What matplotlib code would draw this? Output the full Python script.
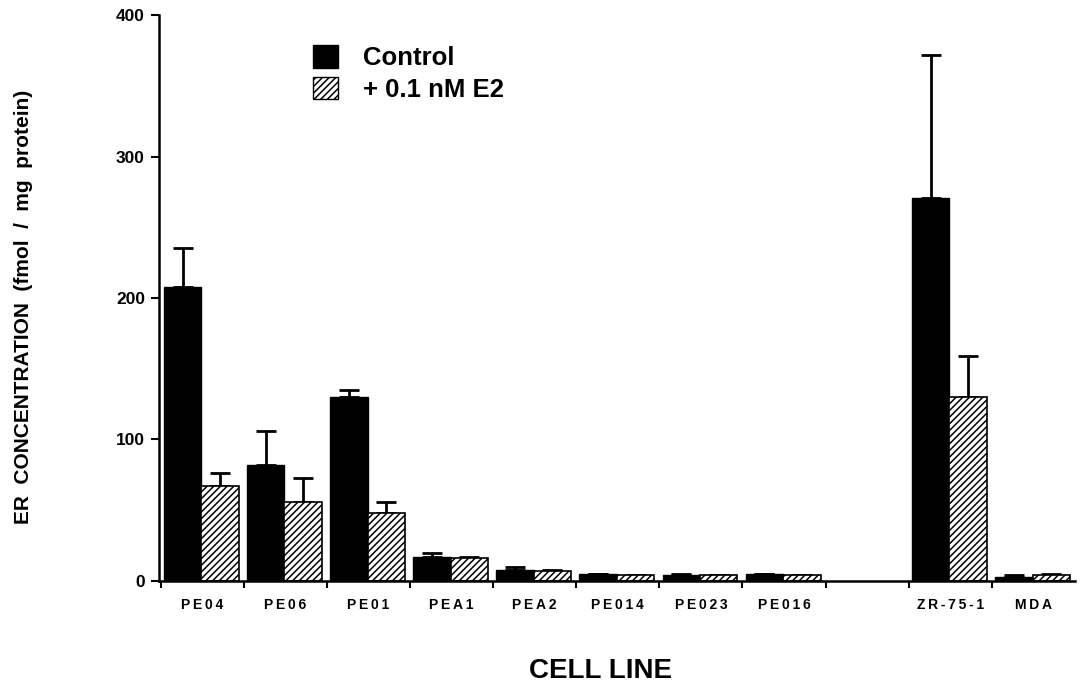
import numpy as np
import matplotlib.pyplot as plt
from matplotlib.patches import Patch

plt.rcParams['font.family'] = ['Liberation Sans', 'DejaVu Sans']
plt.rcParams['font.weight'] = 'bold'
plt.rcParams['hatch.linewidth'] = 1.1

# Data (fmol / mg protein)
cells = ['PE04', 'PE06', 'PE01', 'PEA1', 'PEA2', 'PE014', 'PE023', 'PE016', 'ZR-75-1', 'MDA']
slots = [0, 1, 2, 3, 4, 5, 6, 7, 9, 10]  # slot 8 is left empty
control = [208, 82, 130, 17, 8, 5, 4, 5, 271, 3]
control_err = [27, 24, 5, 3, 2, 0, 1, 0, 101, 1]
e2 = [67, 56, 48, 16, 7, 4, 4, 4, 130, 4]
e2_err = [9, 17, 8, 1, 1, 0, 0, 0, 29, 1]

fig = plt.figure(figsize=(10.88, 6.85), dpi=100)
ax = fig.add_axes([0.146, 0.152, 0.842, 0.826])

x = np.array(slots) + 0.04
w = 0.45
ax.bar(x, control, width=w, align='edge', color='black', edgecolor='black', zorder=2)
ax.bar(x + w, e2, width=w, align='edge', color='white', edgecolor='black',
       hatch='/////', linewidth=1.2, zorder=2)
ax.errorbar(x + w / 2, control, yerr=[np.zeros(len(control)), control_err], fmt='none',
            ecolor='black', elinewidth=2, capsize=7, capthick=2, zorder=1)
ax.errorbar(x + 1.5 * w, e2, yerr=[np.zeros(len(e2)), e2_err], fmt='none',
            ecolor='black', elinewidth=2, capsize=7, capthick=2, zorder=1)

ax.set_xlim(-0.02, 11)
ax.set_ylim(0, 400)
ax.set_xticks(np.arange(0, 11))
ax.set_xticklabels([])
ax.set_xticks(np.array(slots) + 0.5, minor=True)
ax.set_xticklabels(['\u2009'.join(c) for c in cells], minor=True, fontsize=10, fontweight='bold')
ax.tick_params(axis='x', which='major', direction='out', length=5, width=1.5)
ax.tick_params(axis='x', which='minor', length=0, pad=12)
ax.set_yticks([0, 100, 200, 300, 400])
ax.tick_params(axis='y', direction='out', length=6, width=1.5, labelsize=12.5, pad=4)
for lab in ax.get_yticklabels():
    lab.set_fontweight('bold')

for s in ['top', 'right']:
    ax.spines[s].set_visible(False)
ax.spines['left'].set_linewidth(1.8)
ax.spines['bottom'].set_linewidth(1.8)

fig.text(0.022, 0.552, 'ER  CONCENTRATION  (fmol  /  mg  protein)', rotation=90,
         ha='center', va='center', fontsize=15, fontweight='bold')
fig.text(0.552, 0.02, 'CELL LINE', ha='center', va='center', fontsize=20, fontweight='bold')

handles = [Patch(facecolor='black', edgecolor='black', label='Control'),
           Patch(facecolor='white', edgecolor='black', hatch='/////', label='+ 0.1 nM E2')]
ax.legend(handles=handles, loc='upper left', bbox_to_anchor=(0.157, 0.965), frameon=False,
          prop={'size': 18.5, 'weight': 'bold'}, handlelength=0.97, handleheight=0.97,
          handletextpad=0.97, labelspacing=0.25, borderaxespad=0)

plt.savefig('out.png')
